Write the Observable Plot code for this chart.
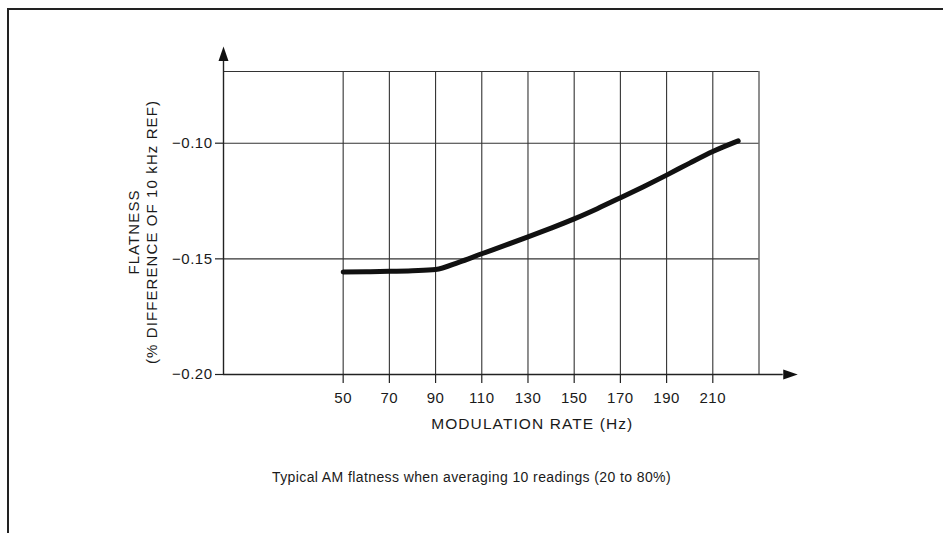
<!DOCTYPE html>
<html><head><meta charset="utf-8">
<script src="https://cdn.jsdelivr.net/npm/d3@7"></script>
<script src="https://cdn.jsdelivr.net/npm/@observablehq/plot@0.6"></script>
<style>
html,body{margin:0;padding:0;background:#fff;}
body{width:943px;height:533px;overflow:hidden;position:relative;font-family:"Liberation Sans",Arial,sans-serif;}
#frame{position:absolute;left:7px;top:8px;width:945px;height:540px;border-left:2px solid #222;border-top:2px solid #222;}
#chart{position:absolute;left:0;top:0;}
#caption{position:absolute;left:0;width:943px;top:469px;text-align:center;font-size:14px;letter-spacing:0.4px;color:#1a1a1a;}
</style></head><body>
<div id="frame"></div>
<div id="chart"></div>
<div id="caption">Typical AM flatness when averaging 10 readings (20 to 80%)</div>
<script>
// Data
const rates = [50, 60, 70, 80, 90, 100, 110, 120, 130, 140, 150, 160, 170, 180, 190, 200, 210, 221];
const flatness = [-0.1557, -0.1556, -0.1554, -0.1551, -0.1546, -0.1515, -0.1478, -0.1442, -0.1405, -0.1367, -0.1327, -0.1283, -0.1236, -0.1188, -0.1138, -0.1086, -0.1036, -0.0990];
const xTicks = [50, 70, 90, 110, 130, 150, 170, 190, 210];
const xGrid = [50, 70, 90, 110, 130, 150, 170, 190, 210, 230];
const yTicks = [-0.20, -0.15, -0.10];
const yTickLabels = ["\u22120.20", "\u22120.15", "\u22120.10"];
const yGrid = [-0.15, -0.10];
const xLabel = "MODULATION RATE (Hz)";
const yLabelLines = ["FLATNESS", "(% DIFFERENCE OF 10 kHz REF)"];

const xMin = -1.8, xMax = 230, yMin = -0.20, yMax = -0.069;
const yArrowBase = -0.0645, xArrowBase = 240.5;

const points = rates.map((r, i) => ({rate: r, flat: flatness[i]}));

const upArrow = {draw(ctx) { ctx.moveTo(0, -14.5); ctx.lineTo(5, 0); ctx.lineTo(-5, 0); ctx.closePath(); }};
const rightArrow = {draw(ctx) { ctx.moveTo(14.5, 0); ctx.lineTo(0, -5); ctx.lineTo(0, 5); ctx.closePath(); }};

const chart = Plot.plot({
  width: 943,
  height: 460,
  marginLeft: 223,
  marginRight: 184.5,
  marginTop: 71,
  marginBottom: 86,
  style: {fontFamily: "'Liberation Sans', Arial, sans-serif", color: "#1a1a1a", background: "transparent"},
  x: {domain: [xMin, xMax], axis: null},
  y: {domain: [yMin, yMax], axis: null},
  marks: [
    Plot.ruleX(xGrid, {y1: yMin, y2: yMax, stroke: "#333", strokeWidth: 1.1}),
    Plot.ruleY(yGrid.concat([yMax]), {x1: xMin, x2: xMax, stroke: "#333", strokeWidth: 1.1}),
    Plot.ruleX([xMin], {y1: yMin, y2: yArrowBase, stroke: "#222", strokeWidth: 1.4}),
    Plot.ruleY([yMin], {x1: xMin, x2: xArrowBase, stroke: "#222", strokeWidth: 1.4}),
    Plot.dot([{x: xMin, y: yArrowBase}], {x: "x", y: "y", symbol: upArrow, fill: "#111", stroke: "none", r: 5}),
    Plot.dot([{x: xArrowBase, y: yMin}], {x: "x", y: "y", symbol: rightArrow, fill: "#111", stroke: "none", r: 5}),
    Plot.axisX({ticks: xTicks, anchor: "bottom", tickSize: 9, tickPadding: 9, fontSize: 15, label: null, stroke: "#222", strokeWidth: 1.2}),
    Plot.axisY({ticks: yTicks, anchor: "left", tickSize: 8, tickPadding: 3, fontSize: 15, label: null, tickFormat: (d) => yTickLabels[yTicks.indexOf(d)], stroke: "#222", strokeWidth: 1.2}),
    Plot.line(points, {x: "rate", y: "flat", stroke: "#111", strokeWidth: 5, curve: "monotone-x"}),
    Plot.text([xLabel], {frameAnchor: "bottom", dx: 41, dy: 54, fontSize: 15.5, fill: "#1a1a1a"}),
    Plot.text([yLabelLines.join("\n")], {frameAnchor: "left", textAnchor: "middle", lineAnchor: "middle", dx: -81, dy: 9, rotate: -90, fontSize: 15, lineHeight: 1.15, fill: "#1a1a1a"})
  ]
});
d3.select(chart).selectAll('g[aria-label="text"] text').attr("letter-spacing", "1.1px");
d3.select(chart).selectAll('g[aria-label="x-axis tick label"] text, g[aria-label="y-axis tick label"] text').attr("letter-spacing", "0.5px");
document.getElementById("chart").appendChild(chart);
</script>
</body></html>
